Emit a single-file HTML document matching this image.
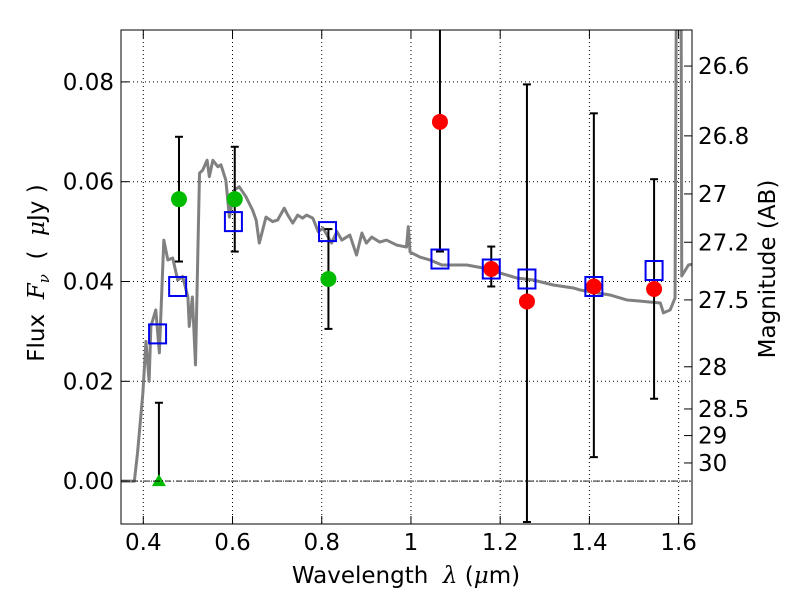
<!DOCTYPE html>
<html><head><meta charset="utf-8">
<style>
html,body{margin:0;padding:0;background:#fff;}
svg{display:block;font-family:"DejaVu Sans","Liberation Sans",sans-serif;}
</style></head>
<body>
<svg id="chart" width="800" height="600" xmlns="http://www.w3.org/2000/svg"></svg>
<script>
// ---- data ----
const sedWave = [0.35,0.38,0.387,0.399,0.406,0.413,0.417,0.428,0.436,0.446,0.455,0.466,0.477,0.488,0.5,0.503,0.51,0.517,0.526,0.533,0.543,0.548,0.556,0.567,0.574,0.585,0.593,0.604,0.615,0.63,0.645,0.653,0.66,0.675,0.69,0.701,0.716,0.724,0.735,0.746,0.757,0.766,0.78,0.792,0.803,0.822,0.834,0.845,0.863,0.878,0.89,0.9,0.912,0.93,0.945,0.968,0.99,0.994,0.998,1.02,1.043,1.069,1.095,1.125,1.162,1.2,1.237,1.274,1.319,1.364,1.379,1.446,1.484,1.559,1.566,1.581,1.592,1.596,1.605,1.607,1.622,1.633];
const sedFlux = [0,0,0.0056,0.0176,0.028,0.020,0.031,0.0343,0.0257,0.0483,0.0443,0.0447,0.0403,0.041,0.0369,0.031,0.0369,0.0233,0.0617,0.0623,0.0643,0.061,0.0643,0.063,0.0634,0.0603,0.0529,0.0583,0.059,0.057,0.0543,0.0523,0.0477,0.0529,0.052,0.0523,0.0547,0.0533,0.0517,0.0533,0.0527,0.0533,0.0527,0.05,0.0507,0.0477,0.05,0.0483,0.0493,0.0453,0.0497,0.0477,0.0489,0.0479,0.0483,0.0473,0.0469,0.051,0.0459,0.0449,0.0443,0.0433,0.0433,0.0433,0.0427,0.0417,0.0407,0.0403,0.0393,0.0387,0.0383,0.0373,0.0363,0.0357,0.0337,0.0343,0.0367,0.12,0.12,0.0411,0.0433,0.0435];
const obsWave = [0.48,0.605,0.815,1.065,1.18,1.26,1.41,1.545];
const obsFlux = [0.0565,0.0565,0.0405,0.072,0.0425,0.036,0.039,0.0385];
const obsLo = [0.044,0.046,0.0305,0.046,0.039,-0.0082,0.0048,0.0165];
const obsHi = [0.069,0.067,0.0505,0.12,0.047,0.0795,0.0737,0.0605];
const obsColor = ["#00bb00","#00bb00","#00bb00","red","red","red","red","red"];
const limWave = [0.435];
const limFlux = [0.0];
const limHi = [0.0157];
const modWave = [0.432,0.477,0.602,0.813,1.065,1.18,1.26,1.41,1.545];
const modFlux = [0.0295,0.039,0.052,0.050,0.0445,0.0425,0.0405,0.039,0.0422];
const xTicks = [0.4,0.6,0.8,1,1.2,1.4,1.6];
const xTickLabels = ["0.4","0.6","0.8","1","1.2","1.4","1.6"];
const yTicks = [0,0.02,0.04,0.06,0.08];
const yTickLabels = ["0.00","0.02","0.04","0.06","0.08"];
const magTicks = [26.6,26.8,27,27.2,27.5,28,28.5,29,30];
const magLabels = ["26.6","26.8","27","27.2","27.5","28","28.5","29","30"];

// ---- layout ----
const L=121,R=692,T=30,B=524;
const xMin=0.35,xMax=1.63,yMin=-0.0086,yMax=0.0904;
const X=v=>L+(v-xMin)/(xMax-xMin)*(R-L);
const Y=v=>B-(v-yMin)/(yMax-yMin)*(B-T);
const magToFlux=m=>Math.pow(10,(23.9-m)/2.5);
const svg=document.getElementById('chart');
const NS="http://www.w3.org/2000/svg";
function mk(tag,attrs,parent){const e=document.createElementNS(NS,tag);for(const k in attrs)e.setAttribute(k,attrs[k]);(parent||svg).appendChild(e);return e;}

const defs=mk('defs',{});
const cp=mk('clipPath',{id:'clip'},defs);
mk('rect',{x:L,y:T,width:R-L,height:B-T},cp);

xTicks.forEach((t,i)=>{
  const g=mk('line',{x1:X(t),x2:X(t),y1:T,y2:B,stroke:'#000','stroke-width':1,'stroke-dasharray':'1,3'});
  
  
});
yTicks.forEach((t,i)=>{
  const g=mk('line',{x1:L,x2:R,y1:Y(t),y2:Y(t),stroke:'#000','stroke-width':1,'stroke-dasharray':'1,3'});
  
  
});

const plot=mk('g',{'clip-path':'url(#clip)'});



const sed=mk('polyline',{points:sedWave.map((w,i)=>X(w)+','+Y(sedFlux[i])).join(' '),fill:'none',stroke:'#808080','stroke-width':3,'stroke-linejoin':'round'},plot);



obsWave.forEach((w,i)=>{
  const g=mk('g',{},plot);
  
  
  mk('line',{x1:X(w),x2:X(w),y1:Y(obsLo[i]),y2:Y(obsHi[i]),stroke:'#000','stroke-width':2},g);
  mk('line',{x1:X(w)-4,x2:X(w)+4,y1:Y(obsLo[i]),y2:Y(obsLo[i]),stroke:'#000','stroke-width':2},g);
  mk('line',{x1:X(w)-4,x2:X(w)+4,y1:Y(obsHi[i]),y2:Y(obsHi[i]),stroke:'#000','stroke-width':2},g);
});
limWave.forEach((w,i)=>{
  const g=mk('g',{},plot);
  
  
  mk('line',{x1:X(w),x2:X(w),y1:Y(limFlux[i]),y2:Y(limHi[i]),stroke:'#000','stroke-width':2},g);
  mk('line',{x1:X(w)-4,x2:X(w)+4,y1:Y(limHi[i]),y2:Y(limHi[i]),stroke:'#000','stroke-width':2},g);
  mk('line',{x1:X(w)-4,x2:X(w)+4,y1:Y(limFlux[i]),y2:Y(limFlux[i]),stroke:'#000','stroke-width':2},g);
  const cx=X(w),cy=Y(limFlux[i]);
  const tri=mk('polygon',{points:`${cx},${cy-7} ${cx-7},${cy+5} ${cx+7},${cy+5}`,fill:'#00bb00'},plot);
  
  
});
obsWave.forEach((w,i)=>{
  const c=mk('circle',{cx:X(w),cy:Y(obsFlux[i]),r:8,fill:obsColor[i]},plot);
  
  
});
modWave.forEach((w,i)=>{
  const r=mk('rect',{x:X(w)-8.5,y:Y(modFlux[i])-9.5,width:17,height:19,fill:'none',stroke:'#0000ee','stroke-width':2},plot);
  
  
});

const z=mk('line',{x1:L,x2:R,y1:Y(0),y2:Y(0),stroke:'#000','stroke-width':0.8,'stroke-dasharray':'6,2,1,2'});



const fr=mk('rect',{x:L,y:T,width:R-L,height:B-T,fill:'none',stroke:'#000','stroke-width':1});



xTicks.forEach((t,i)=>{
  mk('line',{x1:X(t),x2:X(t),y1:B,y2:B-8,stroke:'#000'});
  mk('line',{x1:X(t),x2:X(t),y1:T,y2:T+8,stroke:'#000'});
  const tx=mk('text',{x:X(t),y:B+26,'font-size':23,'text-anchor':'middle'});
  tx.textContent=xTickLabels[i];
  
  
});
yTicks.forEach((t,i)=>{
  mk('line',{x1:L,x2:L+8,y1:Y(t),y2:Y(t),stroke:'#000'});
  const tx=mk('text',{x:L-7,y:Y(t)+8,'font-size':23,'text-anchor':'end'});
  tx.textContent=yTickLabels[i];
  
  
});
magTicks.forEach((m,i)=>{
  const yy=Y(magToFlux(m));
  mk('line',{x1:R,x2:R-8,y1:yy,y2:yy,stroke:'#000'});
  const tx=mk('text',{x:R+6,y:yy+8,'font-size':23,'text-anchor':'start'});
  tx.textContent=magLabels[i];
  
  
});
</script>
<svg width="800" height="600" style="position:absolute;left:0;top:0;font-family:'DejaVu Sans','Liberation Sans',sans-serif" xmlns="http://www.w3.org/2000/svg">
<text x="406" y="583" font-size="23" text-anchor="middle" xml:space="preserve">Wavelength  <tspan font-style="italic" font-family="'DejaVu Serif',serif">λ</tspan> (<tspan font-style="italic" font-family="'DejaVu Serif',serif">μ</tspan>m)</text>
<text transform="translate(44,273) rotate(-90)" font-size="23" text-anchor="middle" xml:space="preserve">Flux  <tspan font-style="italic" font-family="'DejaVu Serif',serif">F</tspan><tspan font-style="italic" font-size="15" dy="5" font-family="'DejaVu Serif',serif">ν</tspan><tspan dy="-5">  (  </tspan><tspan font-style="italic" font-family="'DejaVu Serif',serif">μ</tspan>Jy )</text>
<text transform="translate(775,269) rotate(-90)" font-size="23" text-anchor="middle">Magnitude (AB)</text>
</svg>
</body></html>
